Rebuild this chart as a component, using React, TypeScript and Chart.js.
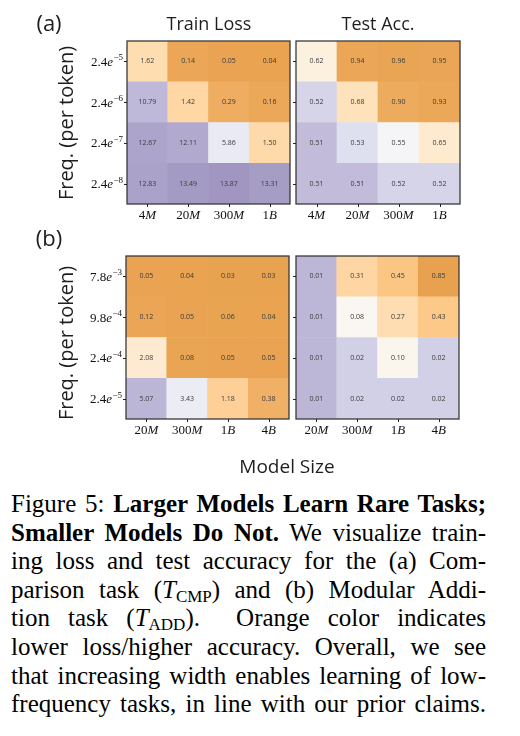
import { useEffect, useRef } from "react";
import { Chart, registerables } from "chart.js";

Chart.register(...registerables);

// ---- data -------------------------------------------------------------
// Columns: model sizes; rows: task frequency (per token), highest first.
const modelsA = ["4M", "20M", "300M", "1B"];
const freqA = ["2.4e-5", "2.4e-6", "2.4e-7", "2.4e-8"];
const trainLossA = [
  [1.62, 0.14, 0.05, 0.04],
  [10.79, 1.42, 0.29, 0.16],
  [12.67, 12.11, 5.86, 1.5],
  [12.83, 13.49, 13.87, 13.31],
];
const testAccA = [
  [0.62, 0.94, 0.96, 0.95],
  [0.52, 0.68, 0.9, 0.93],
  [0.51, 0.53, 0.55, 0.65],
  [0.51, 0.51, 0.52, 0.52],
];

const modelsB = ["20M", "300M", "1B", "4B"];
const freqB = ["7.8e-3", "9.8e-4", "2.4e-4", "2.4e-5"];
const trainLossB = [
  [0.05, 0.04, 0.03, 0.03],
  [0.12, 0.05, 0.06, 0.04],
  [2.08, 0.08, 0.05, 0.05],
  [5.07, 3.43, 1.18, 0.38],
];
const testAccB = [
  [0.01, 0.31, 0.45, 0.85],
  [0.01, 0.08, 0.27, 0.43],
  [0.01, 0.02, 0.1, 0.02],
  [0.01, 0.02, 0.02, 0.02],
];

// ---- colour map (orange -> white -> purple, softened) -----------------
const CMAP = ["#e08214", "#fdb863", "#fee0b6", "#f7f7f7", "#d8daeb", "#b2abd2", "#8073ac"];
const ALPHA = 0.75;

function hexRgb(h: string) {
  return [1, 3, 5].map((i) => parseInt(h.slice(i, i + 2), 16));
}
function colour(t: number) {
  const c = Math.max(0, Math.min(1, t)) * (CMAP.length - 1);
  const i = Math.min(CMAP.length - 2, Math.floor(c));
  const f = c - i;
  const a = hexRgb(CMAP[i]);
  const b = hexRgb(CMAP[i + 1]);
  const rgb = a.map((v, k) => {
    const m = v + (b[k] - v) * f;
    return Math.round(m * ALPHA + 255 * (1 - ALPHA));
  });
  return `rgb(${rgb[0]},${rgb[1]},${rgb[2]})`;
}

// Piecewise-linear normalisation: [value, position in colour map]
function makeNorm(anchors: number[][]) {
  return (v: number) => {
    if (v <= anchors[0][0]) return anchors[0][1];
    for (let i = 1; i < anchors.length; i++) {
      const [x1, y1] = anchors[i];
      const [x0, y0] = anchors[i - 1];
      if (v <= x1) return y0 + ((v - x0) / (x1 - x0)) * (y1 - y0);
    }
    return anchors[anchors.length - 1][1];
  };
}
const normLossA = makeNorm([[0, 0], [0.3, 0.05], [1.6, 0.27], [5.9, 0.62], [10.8, 0.86], [12.1, 0.92], [13.9, 1]]);
const normLossB = makeNorm([[0, 0], [5.8, 1]]);
const normAccA = makeNorm([[0.5, 1], [0.51, 0.85], [0.52, 0.74], [0.53, 0.68], [0.55, 0.53], [0.62, 0.41], [0.68, 0.3], [0.9, 0.04], [1, 0]]);
const normAccB = makeNorm([[0, 1], [0.01, 0.87], [0.02, 0.76], [0.08, 0.48], [0.1, 0.46], [0.3, 0.24], [0.45, 0.15], [0.85, 0], [1, 0]]);

// ---- heat map drawn as stacked unit bars ------------------------------
const CW = 520;
const CH = 480;
const SERIF = "'Liberation Serif', 'Times New Roman', serif";
const SANS = "'Open Sans', 'Noto Sans', sans-serif";

type Area = { left: number; top: number; right: number; bottom: number };

function drawModelLabel(ctx: CanvasRenderingContext2D, label: string, x: number, y: number) {
  const num = label.slice(0, -1);
  const unit = label.slice(-1);
  ctx.font = `13px ${SERIF}`;
  const w1 = ctx.measureText(num).width;
  ctx.font = `italic 13px ${SERIF}`;
  const w2 = ctx.measureText(unit).width;
  const x0 = x - (w1 + w2) / 2;
  ctx.textAlign = "left";
  ctx.textBaseline = "middle";
  ctx.font = `13px ${SERIF}`;
  ctx.fillText(num, x0, y);
  ctx.font = `italic 13px ${SERIF}`;
  ctx.fillText(unit, x0 + w1, y);
}

function drawFreqLabel(ctx: CanvasRenderingContext2D, label: string, xRight: number, y: number) {
  const [mant, exp] = label.split("e");
  const expText = exp.replace("-", "\u2212");
  ctx.textAlign = "left";
  ctx.textBaseline = "alphabetic";
  ctx.font = `13px ${SERIF}`;
  const w1 = ctx.measureText(mant).width;
  ctx.font = `italic 13px ${SERIF}`;
  const w2 = ctx.measureText("e").width;
  ctx.font = `9px ${SERIF}`;
  const w3 = ctx.measureText(expText).width;
  const x0 = xRight - (w1 + w2 + w3 + 0.5);
  const base = y + 4.5;
  ctx.font = `13px ${SERIF}`;
  ctx.fillText(mant, x0, base);
  ctx.font = `italic 13px ${SERIF}`;
  ctx.fillText("e", x0 + w1, base);
  ctx.font = `9px ${SERIF}`;
  ctx.fillText(expText, x0 + w1 + w2 + 0.5, base - 5.5);
}

function Heatmap(props: {
  rows: number[][];
  cols: string[];
  rowLabels: string[];
  norm: (v: number) => number;
  area: Area;
  showRowLabels: boolean;
}) {
  const ref = useRef<HTMLCanvasElement>(null);
  useEffect(() => {
    const { rows, cols, rowLabels, norm, area, showRowLabels } = props;
    // datasets stack from the bottom, so the lowest-frequency row goes first
    const bottomUp = rows.slice().reverse();
    const datasets = bottomUp.map((row) => ({
      data: row.map((v, j) => ({ x: cols[j], y: 1, v })),
      backgroundColor: (c: any) => (c.raw ? colour(norm(c.raw.v)) : "#fff"),
      borderWidth: 0,
      barPercentage: 1,
      categoryPercentage: 1,
    }));

    const overlay = {
      id: "heatOverlay",
      afterDatasetsDraw(chart: any) {
        const ctx: CanvasRenderingContext2D = chart.ctx;
        const a = chart.chartArea;
        ctx.save();
        // cell values
        ctx.fillStyle = "#3a3a3a";
        ctx.font = `7px ${SANS}`;
        ctx.textAlign = "center";
        ctx.textBaseline = "middle";
        chart.data.datasets.forEach((ds: any, i: number) => {
          chart.getDatasetMeta(i).data.forEach((el: any, j: number) => {
            ctx.fillText(ds.data[j].v.toFixed(2), el.x, (el.y + el.base) / 2);
          });
        });
        // frame
        ctx.strokeStyle = "#3a3a3a";
        ctx.lineWidth = 1.3;
        ctx.strokeRect(a.left, a.top, a.right - a.left, a.bottom - a.top);
        // ticks
        const xs = chart.scales.x;
        const ys = chart.scales.y;
        ctx.lineWidth = 1;
        ctx.strokeStyle = "#222";
        cols.forEach((_, j) => {
          const x = Math.round(xs.getPixelForValue(j)) + 0.5;
          ctx.beginPath();
          ctx.moveTo(x, a.bottom);
          ctx.lineTo(x, a.bottom + 3);
          ctx.stroke();
        });
        bottomUp.forEach((_, k) => {
          const y = Math.round(ys.getPixelForValue(k + 0.5)) + 0.5;
          ctx.beginPath();
          ctx.moveTo(a.left - 3, y);
          ctx.lineTo(a.left, y);
          ctx.stroke();
        });
        // tick labels
        ctx.fillStyle = "#111";
        cols.forEach((c, j) => drawModelLabel(ctx, c, xs.getPixelForValue(j), a.bottom + 12));
        if (showRowLabels) {
          rowLabels.forEach((lab, r) => {
            const k = rows.length - 1 - r;
            drawFreqLabel(ctx, lab, a.left - 4, ys.getPixelForValue(k + 0.5));
          });
        }
        ctx.restore();
      },
    };

    const chart = new Chart(ref.current as HTMLCanvasElement, {
      type: "bar",
      data: { labels: cols, datasets: datasets as any },
      options: {
        animation: false,
        responsive: false,
        events: [],
        layout: {
          padding: { left: area.left, top: area.top, right: CW - area.right, bottom: CH - area.bottom },
        },
        plugins: { legend: { display: false }, tooltip: { enabled: false } },
        scales: {
          x: { display: false, stacked: true },
          y: { display: false, stacked: true, min: 0, max: rows.length },
        },
      },
      plugins: [overlay],
    });
    return () => chart.destroy();
  }, []);
  return (
    <canvas
      ref={ref}
      width={CW}
      height={CH}
      style={{ position: "absolute", left: 0, top: 0, width: CW, height: CH }}
    />
  );
}

// ---- page text ----------------------------------------------------------
function Label(props: { x: number; y: number; size: number; text: string; rotate?: boolean }) {
  const { x, y, size, text, rotate } = props;
  return (
    <div
      style={{
        position: "absolute",
        left: x,
        top: y,
        transform: `translate(-50%, -50%)${rotate ? " rotate(-90deg)" : ""}`,
        fontFamily: SANS,
        fontSize: size,
        lineHeight: 1,
        whiteSpace: "nowrap",
        color: "#1e1e1e",
      }}
    >
      {text}
    </div>
  );
}

// subscript that does not stretch the line box
const sub = { fontSize: 17, position: "relative", top: 4, lineHeight: 0, fontStyle: "normal" } as const;

const captionLines = [
  <>Figure 5: <b>Larger Models Learn Rare Tasks;</b></>,
  <><b>Smaller Models Do Not.</b> We visualize train-</>,
  <>ing loss and test accuracy for the (a) Com-</>,
  <>parison task (<i>T</i><span style={sub}>CMP</span>) and (b) Modular Addi-</>,
  <>tion task (<i>T</i><span style={sub}>ADD</span>).&nbsp; Orange color indicates</>,
  <>lower loss/higher accuracy. Overall, we see</>,
  <>that increasing width enables learning of low-</>,
  <>frequency tasks, in line with our prior claims.</>,
];

export default function App() {
  return (
    <div style={{ position: "absolute", left: 0, top: 0, width: 520, height: 736, background: "#fff", overflow: "hidden" }}>
      <Heatmap rows={trainLossA} cols={modelsA} rowLabels={freqA} norm={normLossA} area={{ left: 127, top: 41, right: 290, bottom: 204 }} showRowLabels />
      <Heatmap rows={testAccA} cols={modelsA} rowLabels={freqA} norm={normAccA} area={{ left: 296, top: 41, right: 460, bottom: 204 }} showRowLabels={false} />
      <Heatmap rows={trainLossB} cols={modelsB} rowLabels={freqB} norm={normLossB} area={{ left: 126, top: 256, right: 289, bottom: 419 }} showRowLabels />
      <Heatmap rows={testAccB} cols={modelsB} rowLabels={freqB} norm={normAccB} area={{ left: 296, top: 256, right: 459, bottom: 419 }} showRowLabels={false} />

      <Label x={49} y={22} size={22} text="(a)" />
      <Label x={49} y={237} size={22} text="(b)" />
      <Label x={209} y={22.5} size={18} text="Train Loss" />
      <Label x={378} y={22.5} size={18} text="Test Acc." />
      <Label x={66} y={123} size={20} text="Freq. (per token)" rotate />
      <Label x={66} y={343} size={20} text="Freq. (per token)" rotate />
      <Label x={287} y={466} size={19} text="Model Size" />

      <div
        style={{
          position: "absolute",
          left: 11,
          top: 490,
          width: 475,
          fontFamily: SERIF,
          fontSize: 25,
          lineHeight: "28.6px",
          color: "#000",
        }}
      >
        {captionLines.map((ln, i) => (
          <div key={i} style={{ textAlign: "justify", textAlignLast: "justify", height: 28.6 }}>
            {ln}
          </div>
        ))}
      </div>
    </div>
  );
}
